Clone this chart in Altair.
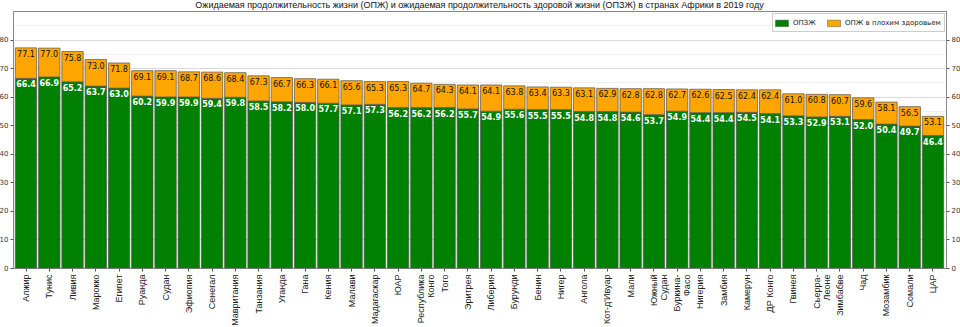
import altair as alt
import pandas as pd

countries = ["Алжир", "Тунис", "Ливия", "Марокко", "Египет", "Руанда", "Судан", "Эфиопия",
             "Сенегал", "Мавритания", "Танзания", "Уганда", "Гана", "Кения", "Малави",
             "Мадагаскар", "ЮАР", "Республика\nКонго", "Того", "Эритрея", "Либерия", "Бурунди",
             "Бенин", "Нигер", "Ангола", "Кот-д'Ивуар", "Мали", "Южный\nСудан", "Буркина-\nФасо",
             "Нигерия", "Замбия", "Камерун", "ДР Конго", "Гвинея", "Сьерра-\nЛеоне", "Зимбабве",
             "Чад", "Мозамбик", "Сомали", "ЦАР"]
le = [77.1, 77.0, 75.8, 73.0, 71.8, 69.1, 69.1, 68.7, 68.6, 68.4,
      67.3, 66.7, 66.3, 66.1, 65.6, 65.3, 65.3, 64.7, 64.3, 64.1,
      64.1, 63.8, 63.4, 63.3, 63.1, 62.9, 62.8, 62.8, 62.7, 62.6,
      62.5, 62.4, 62.4, 61.0, 60.8, 60.7, 59.6, 58.1, 56.5, 53.1]
hale = [66.4, 66.9, 65.2, 63.7, 63.0, 60.2, 59.9, 59.9, 59.4, 59.8,
        58.5, 58.2, 58.0, 57.7, 57.1, 57.3, 56.2, 56.2, 56.2, 55.7,
        54.9, 55.6, 55.5, 55.5, 54.8, 54.8, 54.6, 53.7, 54.9, 54.4,
        54.4, 54.5, 54.1, 53.3, 52.9, 53.1, 52.0, 50.4, 49.7, 46.4]
series = ["ОПЗЖ", "ОПЖ в плохим здоровьем"]
colors = ["#008000", "#FFA500"]
title = ("Ожидаемая продолжительность жизни (ОПЖ) и ожидаемая продолжительность "
         "здоровой жизни (ОПЗЖ) в странах Африки в 2019 году")

rows = []
for c, l, h in zip(countries, le, hale):
    rows.append({"country": c, "series": series[0], "start": 0, "end": h, "value": h})
    rows.append({"country": c, "series": series[1], "start": h, "end": l, "value": l})
df = pd.DataFrame(rows)

font = "DejaVu Sans"
font2 = "Liberation Sans"
yscale = alt.Scale(domain=[0, 90], nice=False, zero=True)

xenc = alt.X("country:N", sort=countries,
             scale=alt.Scale(paddingInner=0.08, paddingOuter=0.1),
             axis=alt.Axis(title=None, labelAngle=-90,
                           labelExpr="split(datum.value, '\\n')",
                           labelFont=font2, labelFontSize=9, labelColor="#222",
                           tickSize=3, tickColor="#555", domainColor="#888",
                           labelPadding=3, labelLineHeight=10))

is10 = "datum.value % 10 == 0"
left_axis = alt.Axis(title=None, values=list(range(0, 90, 5)),
                     labelExpr=is10 + " ? datum.label : ''",
                     labelFont=font, labelFontSize=7, labelColor="#333",
                     tickSize=3, tickColor="#555",
                     tickOpacity={"condition": {"test": is10, "value": 1}, "value": 0},
                     grid=True,
                     gridColor={"condition": {"test": is10, "value": "#d2d2d2"}, "value": "#ececec"},
                     gridWidth=0.8, domainColor="#888", labelPadding=2)
right_axis = alt.Axis(title=None, orient="right", values=list(range(0, 90, 10)),
                      labelFont=font, labelFontSize=7, labelColor="#333",
                      tickSize=3, tickColor="#555", grid=False,
                      domainColor="#888", labelPadding=2)

bars = alt.Chart(df).mark_bar(stroke="#555", strokeWidth=0.7).encode(
    x=xenc,
    y=alt.Y("start:Q", scale=yscale, axis=left_axis),
    y2="end:Q",
    color=alt.Color("series:N", scale=alt.Scale(domain=series, range=colors),
                    legend=alt.Legend(title=None, orient="top-right", direction="horizontal",
                                      symbolType="M-1,-0.5L1,-0.5L1,0.5L-1,0.5Z",
                                      symbolSize=169, symbolStrokeWidth=0.5,
                                      labelFont=font, labelFontSize=7, labelColor="#222",
                                      fillColor="white", strokeColor="#cccccc",
                                      padding=3, offset=2, columnPadding=10)),
)

t_or = alt.Chart(df[df.series == series[1]]).mark_text(
    dy=7, fontSize=8, font=font, color="#111", baseline="middle").encode(
    x=xenc,
    y=alt.Y("end:Q", scale=yscale, axis=right_axis),
    text=alt.Text("value:Q", format=".1f"),
)
t_gr = alt.Chart(df[df.series == series[0]]).mark_text(
    dy=7, fontSize=8, font=font, fontWeight="bold", color="white", baseline="middle").encode(
    x=xenc,
    y=alt.Y("end:Q", scale=yscale, axis=None),
    text=alt.Text("value:Q", format=".1f"),
)

chart = alt.layer(bars, t_or, t_gr).resolve_axis(y="independent").properties(
    width=933, height=257,
    padding={"left": 13, "top": 11, "right": 14, "bottom": 59},
    autosize=alt.AutoSizeParams(type="none"),
    title=alt.TitleParams(title, font=font2, fontSize=9, fontWeight="normal",
                          color="#111", anchor="middle", offset=1),
).configure_view(stroke="#888", strokeWidth=1)

chart.save("out.html", embed_options={"renderer": "svg", "actions": False})
